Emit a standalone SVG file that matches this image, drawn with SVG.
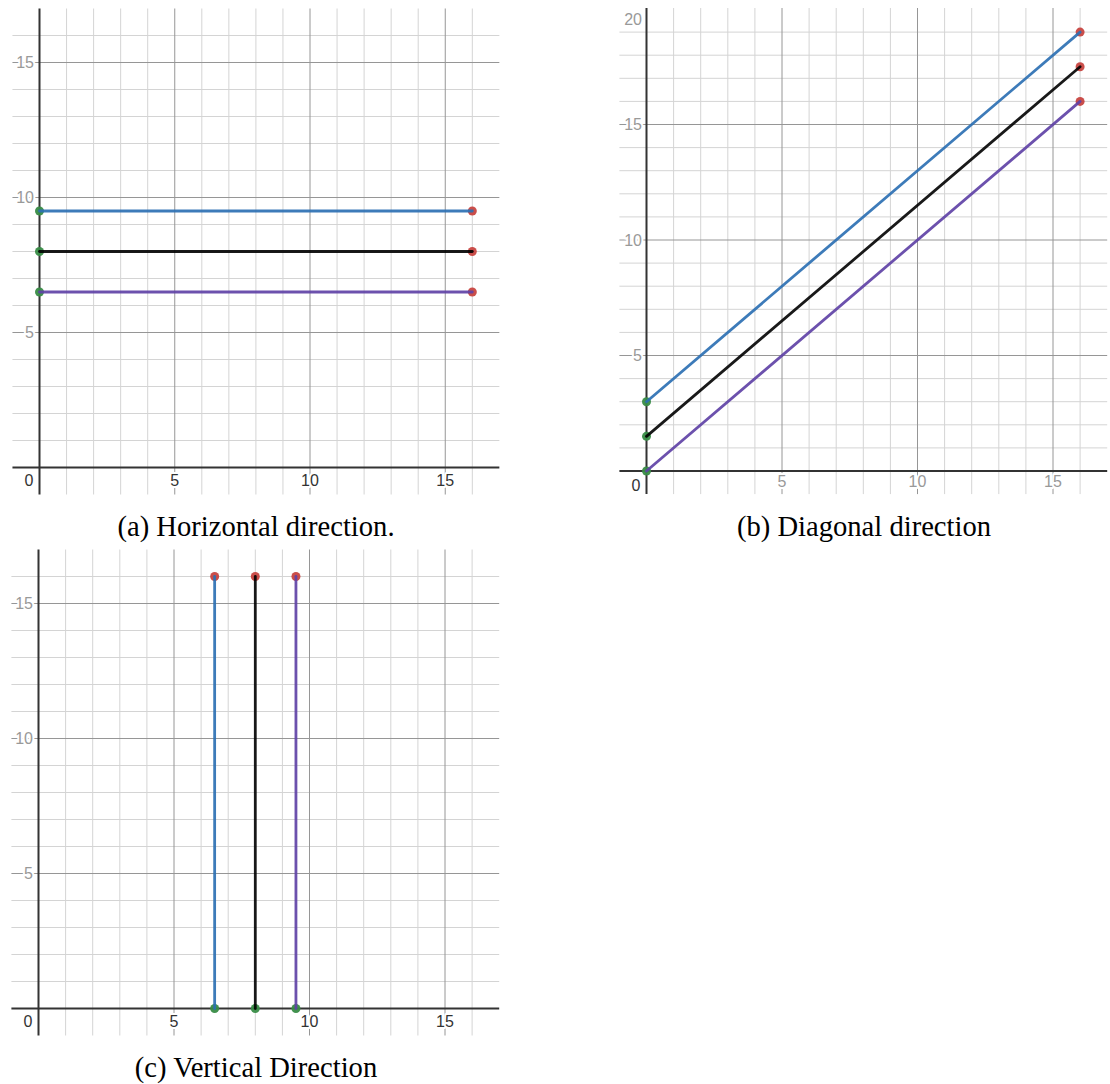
<svg xmlns="http://www.w3.org/2000/svg" width="1110" height="1084" viewBox="0 0 1110 1084">
<style>
.minor{stroke:#d4d4d4;stroke-width:1;fill:none}
.major{stroke:#969696;stroke-width:1;fill:none}
.axis{stroke:#333;stroke-width:2;fill:none}
.lbl{font-family:"Liberation Sans",Arial,sans-serif;font-size:16px;paint-order:stroke;stroke:#fff;stroke-width:4px;stroke-linejoin:round}
.g{fill:#999}
.d{fill:#333}
.cap{font-family:"Liberation Serif","Times New Roman",serif;font-size:28.6px;fill:#000;text-anchor:middle}
.blue{stroke:#2d70b3;stroke-opacity:0.92;stroke-width:2.8;fill:none;stroke-linecap:round}
.black{stroke:#000;stroke-opacity:0.9;stroke-width:2.8;fill:none;stroke-linecap:round}
.purple{stroke:#6042a6;stroke-opacity:0.92;stroke-width:2.8;fill:none;stroke-linecap:round}
.start{fill:#388c46;fill-opacity:0.95}
.end{fill:#c74440;fill-opacity:0.95}
</style>
<rect width="1110" height="1084" fill="#fff"/>

<g id="panel-a">
<path class="minor" d="M66.55 8.5V494.5M93.6 8.5V494.5M120.65 8.5V494.5M147.7 8.5V494.5M201.8 8.5V494.5M228.85 8.5V494.5M255.9 8.5V494.5M282.95 8.5V494.5M337.05 8.5V494.5M364.1 8.5V494.5M391.15 8.5V494.5M418.2 8.5V494.5M472.3 8.5V494.5
M12.45 440.5H499.35M12.45 413.5H499.35M12.45 386.5H499.35M12.45 359.5H499.35M12.45 305.5H499.35M12.45 278.5H499.35M12.45 251.5H499.35M12.45 224.5H499.35M12.45 170.5H499.35M12.45 143.5H499.35M12.45 116.5H499.35M12.45 89.5H499.35M12.45 35.5H499.35"/>
<path class="major" d="M174.75 8.5V494.5M310 8.5V494.5M445.25 8.5V494.5M12.45 332.5H499.35M12.45 197.5H499.35M12.45 62.5H499.35"/>
<path class="axis" d="M12.45 467.5H499.35M39.5 8.5V494.5"/>
<text class="lbl g" x="34" y="68" text-anchor="end">15</text>
<text class="lbl g" x="34" y="203" text-anchor="end">10</text>
<text class="lbl g" x="34" y="338" text-anchor="end">5</text>
<text class="lbl d" x="29" y="486" text-anchor="middle">0</text>
<text class="lbl d" x="174.75" y="486" text-anchor="middle">5</text>
<text class="lbl d" x="310" y="486" text-anchor="middle">10</text>
<text class="lbl d" x="445.25" y="486" text-anchor="middle">15</text>
<circle class="start" cx="39.5" cy="211" r="4.5"/>
<circle class="start" cx="39.5" cy="251.5" r="4.5"/>
<circle class="start" cx="39.5" cy="292" r="4.5"/>
<circle class="end" cx="472.3" cy="211" r="4.5"/>
<circle class="end" cx="472.3" cy="251.5" r="4.5"/>
<circle class="end" cx="472.3" cy="292" r="4.5"/>
<path class="blue" d="M39.5 211H472.3"/>
<path class="black" d="M39.5 251.5H472.3"/>
<path class="purple" d="M39.5 292H472.3"/>
<text class="cap" x="256" y="536">(a) Horizontal direction.</text>
</g>

<g id="panel-b">
<path class="minor" d="M673.6 8V494.1M700.7 8V494.1M727.8 8V494.1M754.9 8V494.1M809.1 8V494.1M836.2 8V494.1M863.3 8V494.1M890.4 8V494.1M944.6 8V494.1M971.7 8V494.1M998.8 8V494.1M1025.9 8V494.1M1080.1 8V494.1
M619.4 447.9H1107.2M619.4 424.8H1107.2M619.4 401.7H1107.2M619.4 378.6H1107.2M619.4 332.4H1107.2M619.4 309.3H1107.2M619.4 286.2H1107.2M619.4 263.1H1107.2M619.4 216.9H1107.2M619.4 193.8H1107.2M619.4 170.7H1107.2M619.4 147.6H1107.2M619.4 101.4H1107.2M619.4 78.3H1107.2M619.4 55.2H1107.2M619.4 32.1H1107.2"/>
<path class="major" d="M782 8V494.1M917.5 8V494.1M1053 8V494.1M619.4 355.5H1107.2M619.4 240H1107.2M619.4 124.5H1107.2"/>
<path class="axis" d="M619.4 471H1107.2M646.5 8V494.1"/>
<text class="lbl g" x="642" y="25" text-anchor="end">20</text>
<text class="lbl g" x="642" y="130" text-anchor="end">15</text>
<text class="lbl g" x="642" y="245.5" text-anchor="end">10</text>
<text class="lbl g" x="642" y="361" text-anchor="end">5</text>
<text class="lbl d" x="636" y="491" text-anchor="middle">0</text>
<text class="lbl g" x="782" y="487" text-anchor="middle">5</text>
<text class="lbl g" x="917.5" y="487" text-anchor="middle">10</text>
<text class="lbl g" x="1053" y="487" text-anchor="middle">15</text>
<circle class="start" cx="646.5" cy="401.7" r="4.5"/>
<circle class="start" cx="646.5" cy="436.35" r="4.5"/>
<circle class="start" cx="646.5" cy="471" r="4.5"/>
<circle class="end" cx="1080.1" cy="32.1" r="4.5"/>
<circle class="end" cx="1080.1" cy="66.75" r="4.5"/>
<circle class="end" cx="1080.1" cy="101.4" r="4.5"/>
<path class="blue" d="M646.5 401.7L1080.1 32.1"/>
<path class="black" d="M646.5 436.35L1080.1 66.75"/>
<path class="purple" d="M646.5 471L1080.1 101.4"/>
<text class="cap" x="864" y="536">(b) Diagonal direction</text>
</g>

<g id="panel-c">
<path class="minor" d="M65.6 549.5V1035.5M92.7 549.5V1035.5M119.8 549.5V1035.5M146.9 549.5V1035.5M201.1 549.5V1035.5M228.2 549.5V1035.5M255.3 549.5V1035.5M282.4 549.5V1035.5M336.6 549.5V1035.5M363.7 549.5V1035.5M390.8 549.5V1035.5M417.9 549.5V1035.5M472.1 549.5V1035.5
M11.4 981.5H499.2M11.4 954.5H499.2M11.4 927.5H499.2M11.4 900.5H499.2M11.4 846.5H499.2M11.4 819.5H499.2M11.4 792.5H499.2M11.4 765.5H499.2M11.4 711.5H499.2M11.4 684.5H499.2M11.4 657.5H499.2M11.4 630.5H499.2M11.4 576.5H499.2"/>
<path class="major" d="M174 549.5V1035.5M309.5 549.5V1035.5M445 549.5V1035.5M11.4 873.5H499.2M11.4 738.5H499.2M11.4 603.5H499.2"/>
<path class="axis" d="M11.4 1008.5H499.2M38.5 549.5V1035.5"/>
<text class="lbl g" x="33" y="609" text-anchor="end">15</text>
<text class="lbl g" x="33" y="744" text-anchor="end">10</text>
<text class="lbl g" x="33" y="879" text-anchor="end">5</text>
<text class="lbl d" x="28" y="1027" text-anchor="middle">0</text>
<text class="lbl d" x="174" y="1027" text-anchor="middle">5</text>
<text class="lbl d" x="309.5" y="1027" text-anchor="middle">10</text>
<text class="lbl d" x="445" y="1027" text-anchor="middle">15</text>
<circle class="start" cx="214.65" cy="1008.5" r="4.5"/>
<circle class="start" cx="255.3" cy="1008.5" r="4.5"/>
<circle class="start" cx="295.95" cy="1008.5" r="4.5"/>
<circle class="end" cx="214.65" cy="576.5" r="4.5"/>
<circle class="end" cx="255.3" cy="576.5" r="4.5"/>
<circle class="end" cx="295.95" cy="576.5" r="4.5"/>
<path class="blue" d="M214.65 1008.5V576.5"/>
<path class="black" d="M255.3 1008.5V576.5"/>
<path class="purple" d="M295.95 1008.5V576.5"/>
<text class="cap" x="256" y="1077">(c) Vertical Direction</text>
</g>
</svg>
